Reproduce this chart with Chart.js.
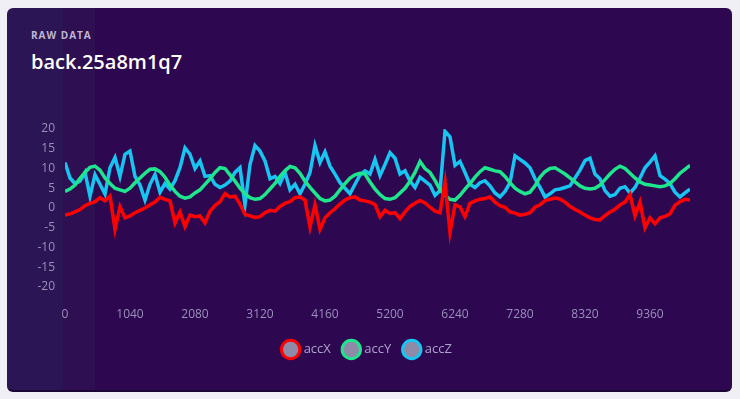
<!DOCTYPE html>
<html>
<head>
<meta charset="utf-8">
<script src="https://cdn.jsdelivr.net/npm/chart.js@4.4.1/dist/chart.umd.min.js"></script>
<style>
  html, body { margin: 0; padding: 0; background: #f1eff6; width: 740px; height: 399px; overflow: hidden; }
  #card {
    position: absolute; left: 7px; top: 8px; width: 725px; height: 382px;
    border-radius: 6px;
    background: linear-gradient(to right, #2b1554 0px, #2b1554 56px, #2d0f52 56px, #2d0f52 88px, #2e0751 88px);
    border-bottom: 2px solid #1b0534;
  }
  #sub { position: absolute; left: 31px; top: 30px; font: 700 10px/10px "Open Sans", sans-serif; letter-spacing: 1px; color: #bfb6d2; }
  #title { position: absolute; left: 31px; top: 52px; font: 600 20px/20px "Open Sans", sans-serif; color: #ffffff; }
  #c { position: absolute; left: 0; top: 0; }
</style>
</head>
<body>
<div id="card"></div>
<div id="sub">RAW DATA</div>
<div id="title">back.25a8m1q7</div>
<canvas id="c" width="740" height="399"></canvas>
<script>
// sample times (ms)
const timesMs = [0,80,160,240,320,400,480,560,640,720,800,880,960,1040,1120,1200,1280,1360,1440,1520,1600,1680,1760,1840,1920,2000,2080,2160,2240,2320,2400,2480,2560,2640,2720,2800,2880,2960,3040,3120,3200,3280,3360,3440,3520,3600,3680,3760,3840,3920,4000,4080,4160,4240,4320,4400,4480,4560,4640,4720,4800,4880,4960,5040,5120,5200,5280,5360,5440,5520,5600,5680,5760,5840,5920,6000,6080,6160,6240,6320,6400,6480,6560,6640,6720,6800,6880,6960,7040,7120,7200,7280,7360,7440,7520,7600,7680,7760,7840,7920,8000,8080,8160,8240,8320,8400,8480,8560,8640,8720,8800,8880,8960,9040,9120,9200,9280,9360,9440,9520,9600,9680,9760,9840,9920,10000];

const accX = [-1.8,-1.5,-1.0,-0.4,0.6,1.2,1.6,2.6,1.8,3.0,-5.4,0.3,-2.5,-2.0,-1.2,-0.6,0.0,0.8,1.5,2.7,2.2,1.8,-3.8,-1.0,-4.7,-1.8,-2.2,-2.0,-3.8,-0.8,0.6,1.6,3.6,2.8,3.0,1.0,-1.6,-2.0,-2.4,-2.2,-1.2,-0.6,-0.8,0.4,1.2,1.6,2.6,2.8,2.0,-4.8,0.8,-5.4,-2.5,-1.2,-0.2,1.0,2.0,2.6,2.8,2.0,1.8,1.5,0.9,-2.2,-0.6,-1.4,-1.2,-2.7,-1.0,0.4,1.2,1.9,1.3,0.2,-0.8,-1.2,6.5,-6.2,0.8,0.3,-2.2,1.2,1.8,2.2,2.4,2.8,1.5,0.6,0.2,-1.0,-1.3,-1.8,-1.6,-1.2,0.2,0.8,1.9,2.2,2.5,2.3,1.5,0.4,-0.4,-1.0,-1.8,-2.5,-2.9,-3.0,-1.9,-1.0,-0.3,0.8,1.5,3.4,-2.0,1.5,-5.0,-2.5,-4.0,-2.5,-2.1,-1.5,0.7,1.6,2.2,2.0];

const accY = [4.2,4.8,5.8,7.5,9.0,10.3,10.6,9.6,7.6,6.2,5.0,4.6,4.2,5.0,6.4,7.6,8.8,9.8,9.9,9.2,7.8,5.8,4.2,3.0,2.5,2.8,3.8,4.6,6.0,7.4,9.0,10.2,10.0,8.4,6.8,5.0,3.6,2.6,2.2,2.4,3.4,4.8,6.2,8.0,9.4,10.5,10.2,8.8,6.8,5.2,3.8,2.4,1.8,2.0,3.0,4.6,6.2,7.6,8.4,8.8,8.6,6.6,4.8,3.4,2.4,2.2,2.6,3.8,5.0,6.8,9.0,11.8,10.0,9.0,7.0,4.6,3.2,2.2,2.0,3.2,4.8,6.2,7.8,9.2,10.2,9.8,9.4,9.2,8.0,6.4,5.0,4.2,3.6,4.0,5.6,7.8,9.2,10.0,10.2,9.4,8.6,7.6,6.6,5.6,5.0,4.8,5.0,5.8,7.2,8.6,9.8,10.6,10.0,8.8,7.6,6.6,6.0,5.8,5.6,5.4,5.6,6.2,7.4,8.8,9.8,10.8];

const accZ = [11.5,7.6,6.2,6.8,9.0,3.0,8.4,6.0,3.5,10.2,12.8,8.0,13.6,14.4,8.0,5.8,2.0,6.0,8.5,4.0,6.2,4.8,6.9,10.2,15.2,13.6,10.0,11.9,8.0,8.2,6.0,5.2,5.8,6.8,9.0,10.2,0.8,11.0,15.8,14.4,11.9,7.4,8.0,6.2,9.0,4.6,6.0,3.6,6.0,9.0,15.8,11.5,14.2,10.6,8.6,6.4,5.0,3.6,6.0,8.4,9.4,8.6,12.3,8.2,11.0,14.0,12.6,8.6,9.4,6.8,5.2,7.8,6.8,5.8,3.2,4.4,19.4,18.0,10.8,11.8,9.0,6.0,5.2,6.4,6.9,5.6,3.8,2.8,4.2,6.4,13.2,12.3,11.4,10.2,7.4,5.2,2.8,3.6,4.6,4.8,5.2,5.6,7.6,9.6,12.0,12.6,8.6,7.4,4.4,3.0,3.4,5.0,5.4,3.8,5.2,7.6,10.2,11.6,13.2,8.2,7.3,6.2,4.0,2.8,3.8,4.8];

const xTickLabels = [0,1040,2080,3120,4160,5200,6240,7280,8320,9360];
const yTickLabels = [-20,-15,-10,-5,0,5,10,15,20];

const seriesNames = ['accX','accY','accZ'];
const seriesColors = ['#ff0000','#1ee68c','#17c6f0'];
const seriesValues = [accX, accY, accZ];

Chart.defaults.font.family = '"Open Sans", sans-serif';

const datasets = seriesNames.map((name, i) => ({
  label: name,
  data: timesMs.map((t, j) => ({ x: t, y: seriesValues[i][j] })),
  borderColor: seriesColors[i],
  backgroundColor: seriesColors[i],
  borderWidth: 3.5,
  pointRadius: 0,
  pointHoverRadius: 0,
  pointBackgroundColor: '#8f8aa8',
  pointBorderColor: seriesColors[i],
  pointBorderWidth: 3,
  tension: 0,
  fill: false
}));

// nudge the legend row to sit where the reference puts it
const legendShift = {
  id: 'legendShift',
  afterLayout(chart) {
    if (chart.legend) { chart.legend.left += 8; chart.legend.right += 8; }
  }
};

new Chart(document.getElementById('c'), {
  type: 'line',
  data: { datasets },
  plugins: [legendShift],
  options: {
    responsive: false,
    animation: false,
    layout: { padding: { left: 30, right: 50, top: 129, bottom: 33 } },
    scales: {
      x: {
        type: 'linear', min: 0, max: 10000,
        grid: { display: false, drawTicks: false },
        border: { display: false },
        afterBuildTicks: (s) => { s.ticks = xTickLabels.map(v => ({ value: v })); },
        afterFit: (s) => { s.height = 42; },
        ticks: { color: '#9a91ba', font: { size: 12 }, padding: 20, maxRotation: 0, autoSkip: false,
                 callback: (v) => String(v) }
      },
      y: {
        min: -20, max: 20,
        grid: { display: false, drawTicks: false },
        border: { display: false },
        afterBuildTicks: (s) => { s.ticks = yTickLabels.map(v => ({ value: v })); },
        afterFit: (s) => { s.width = 35; },
        ticks: { color: '#9a91ba', font: { size: 12 }, padding: 10, callback: (v) => String(v) }
      }
    },
    plugins: {
      legend: {
        position: 'bottom',
        labels: { usePointStyle: true, pointStyle: 'circle', color: '#ada3cc', font: { size: 13 }, padding: 14 }
      },
      tooltip: { enabled: false }
    }
  }
});
</script>
</body>
</html>
